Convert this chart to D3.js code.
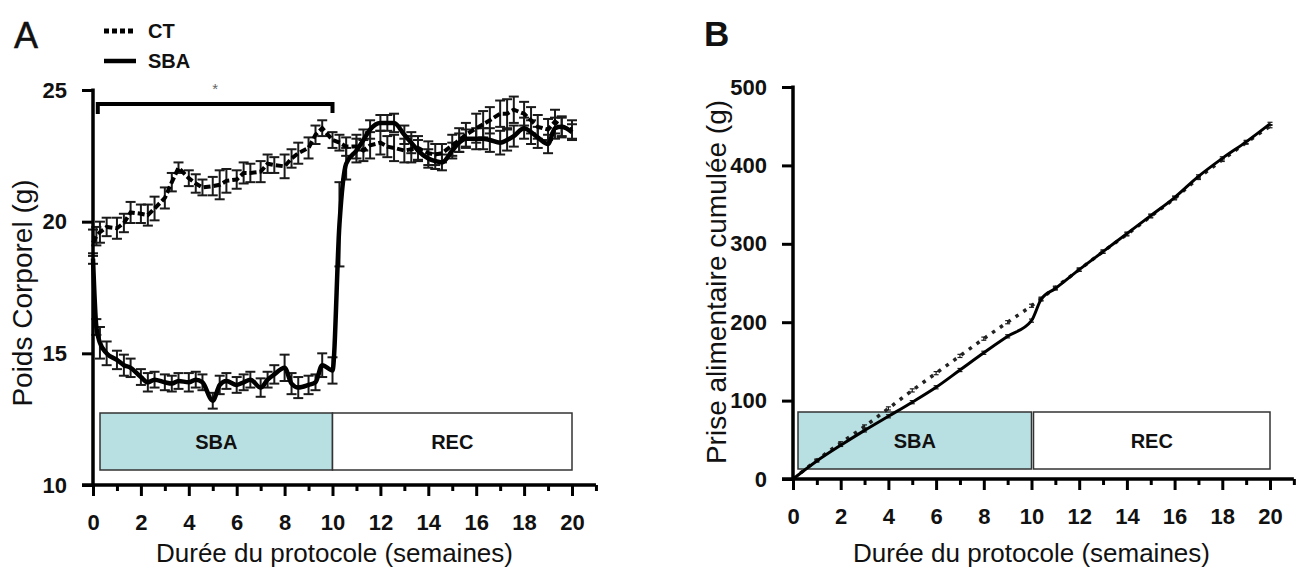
<!DOCTYPE html>
<html><head><meta charset="utf-8">
<script src="https://cdn.jsdelivr.net/npm/d3@7"></script>
<style>
body{margin:0;background:#fff;}
svg text{font-family:"Liberation Sans",Arial,Helvetica,sans-serif;}
</style></head><body>
<svg id="chart" width="1298" height="572"></svg>
<script>
// ---------- DATA ----------
// Panel A: body weight (g), weeks of protocol
const weeksA = [0, 0.14, 0.29, 0.57,
 1, 1.29, 1.57,  2, 2.29, 2.57,  3, 3.29, 3.57,  4, 4.29, 4.57,  5, 5.29, 5.57,
 6, 6.29, 6.57,  7, 7.29, 7.57,  8, 8.29, 8.57,  9, 9.29, 9.57,  10, 10.29, 10.57,
 11, 11.29, 11.57,  12, 12.29, 12.57,  13, 13.29, 13.57,  14, 14.29, 14.57,
 15, 15.29, 15.57,  16, 16.29, 16.57,  17, 17.29, 17.57,  18, 18.29, 18.57,
 19, 19.29, 19.57,  20];
const ctWeight = [19.2, 19.45, 19.6, 19.8,
 19.75, 19.95, 20.35,  20.3, 20.25, 20.5,  20.9, 21.5, 22.05,  21.65, 21.45, 21.3,  21.35, 21.4, 21.55,
 21.6, 21.85, 21.85,  21.9, 22.2, 22.15,  22.1, 22.4, 22.6,  22.8, 23.3, 23.55,  23.1, 23.0, 22.85,
 22.85, 22.7, 22.9,  23.0, 22.85, 22.8,  22.7, 22.75, 22.8,  22.6, 22.55, 22.6,
 22.9, 23.1, 23.3,  23.55, 23.7, 23.85,  24.1, 24.1, 24.25,  24.1, 23.85, 23.6,
 23.5, 23.8, 23.6,  23.5];
const ctWeightSem = [0.5, 0.35, 0.4, 0.35,
 0.4, 0.35, 0.4,  0.35, 0.4, 0.45,  0.4, 0.35, 0.2,  0.3, 0.35, 0.3,  0.35, 0.55, 0.45,
 0.35, 0.4, 0.35,  0.4, 0.35, 0.3,  0.45, 0.35, 0.4,  0.4, 0.35, 0.3,  0.3, 0.3, 0.35,
 0.45, 0.4, 0.5,  0.45, 0.4, 0.5,  0.45, 0.5, 0.45,  0.45, 0.4, 0.35,
 0.4, 0.45, 0.45,  0.55, 0.5, 0.5,  0.5, 0.55, 0.5,  0.45, 0.5, 0.45,
 0.4, 0.45, 0.4,  0.35];
const sbaWeight = [18.6, 16.0, 15.4, 15.0,
 14.75, 14.55, 14.45,  14.1, 13.9, 14.0,  13.9, 13.85, 13.95,  13.9, 14.0, 13.9,  13.2, 13.8, 13.95,
 13.8, 13.9, 14.0,  13.7, 14.0, 14.2,  14.45, 13.85, 13.7,  13.8, 13.9, 14.55,  14.35, 19.9, 22.2,
 22.7, 23.1, 23.5,  23.75, 23.75, 23.75,  23.3, 23.0, 22.7,  22.4, 22.3, 22.25,
 22.7, 23.0, 23.15,  23.15, 23.15, 23.1,  23.0, 23.1, 23.25,  23.55, 23.4, 23.2,
 22.95, 23.55, 23.6,  23.4];
const sbaWeightSem = [0.2, 0.3, 0.6, 0.45,
 0.35, 0.4, 0.35,  0.3, 0.35, 0.3,  0.3, 0.3, 0.3,  0.35, 0.3, 0.3,  0.3, 0.35, 0.3,
 0.3, 0.3, 0.3,  0.35, 0.3, 0.35,  0.5, 0.4, 0.4,  0.35, 0.3, 0.45,  0.5, 1.6, 0.6,
 0.45, 0.4, 0.35,  0.3, 0.3, 0.35,  0.35, 0.4, 0.4,  0.35, 0.3, 0.3,
 0.3, 0.35, 0.35,  0.4, 0.4, 0.45,  0.45, 0.4, 0.4,  0.4, 0.45, 0.4,
 0.35, 0.4, 0.35,  0.3];

// Panel B: cumulative food intake (g)
const weeksB = [0, 1, 2, 3, 4, 5, 6, 7, 8, 9, 10, 10.4, 11, 12, 13, 14, 15, 16, 17, 18, 19, 20];
const ctFood  = [0, 24, 46, 67, 90, 113, 135, 157, 179, 200, 221, 230, 244, 267, 290, 312, 335, 358, 384, 407, 429, 450];
const sbaFood = [0, 23, 43, 62, 80, 98, 117, 139, 161, 182, 202, 229, 243, 267, 290, 313, 336, 359, 386, 409, 430, 453];
const ctFoodSem  = [0, 1.5, 1.5, 2, 2, 2, 2, 2, 2, 2, 2, 2, 2, 2, 2, 2, 2, 2, 2, 2, 2, 2];
const sbaFoodSem = [0, 1.5, 1.5, 2, 2, 2, 2, 2, 2, 2, 2, 2, 2, 2, 2, 2, 2, 2, 2, 2, 2, 2];

// Axes / labels
const xMajorTicks = [0, 2, 4, 6, 8, 10, 12, 14, 16, 18, 20];
const xMinorTicks = [1, 3, 5, 7, 9, 11, 13, 15, 17, 19, 21];
const yTicksA = [10, 15, 20, 25];
const yTicksB = [0, 100, 200, 300, 400, 500];
const phaseLabels = ["SBA", "REC"];
const phaseBounds = [[0, 10], [10, 20]];
const groupLabels = ["CT", "SBA"];
const xTitle = "Durée du protocole (semaines)";
const yTitleA = "Poids Corporel (g)";
const yTitleB = "Prise alimentaire cumulée (g)";

// ---------- DRAW ----------
const svg = d3.select("#chart");
const FONT = '"Liberation Sans",Arial,Helvetica,sans-serif';

function axes(g, x, y, yTicks, yMin, yMax) {
  const y0 = y(yMin);
  const gx = g.append("g").attr("transform", `translate(0,${y0})`)
    .call(d3.axisBottom(x).tickValues(xMajorTicks).tickSize(11).tickPadding(18));
  const gxm = g.append("g").attr("transform", `translate(0,${y0})`)
    .call(d3.axisBottom(x).tickValues(xMinorTicks).tickSize(6).tickFormat(""));
  const gy = g.append("g").attr("transform", `translate(${x(0)},0)`)
    .call(d3.axisLeft(y).tickValues(yTicks).tickSize(11).tickPadding(15));
  [gx, gxm, gy].forEach(s => {
    s.select(".domain").remove();
    s.selectAll(".tick line").attr("stroke", "#000").attr("stroke-width", 3);
    s.selectAll(".tick text").attr("font-family", FONT).attr("font-size", 22)
      .attr("font-weight", "bold").attr("fill", "#111");
  });
  g.append("line").attr("x1", x(0) - 11).attr("x2", x(21)).attr("y1", y0).attr("y2", y0)
    .attr("stroke", "#000").attr("stroke-width", 3.5);
  g.append("line").attr("x1", x(0)).attr("x2", x(0)).attr("y1", y(yMax) - 1.5).attr("y2", y0 + 1.5)
    .attr("stroke", "#000").attr("stroke-width", 3.5);
}

function phaseBoxes(g, x, top, bottom, startPad, gap) {
  phaseLabels.forEach((lab, i) => {
    const x1 = x(phaseBounds[i][0]) + (i === 0 ? startPad : gap);
    const x2 = x(phaseBounds[i][1]);
    g.append("rect").attr("x", x1).attr("y", top).attr("width", x2 - x1).attr("height", bottom - top)
      .attr("fill", i === 0 ? "#b8dfe1" : "#fff").attr("stroke", "#333").attr("stroke-width", 1.5);
    g.append("text").attr("x", (x1 + x2) / 2).attr("y", (top + bottom) / 2)
      .attr("text-anchor", "middle").attr("dominant-baseline", "central")
      .attr("font-size", 20).attr("font-weight", "bold").attr("fill", "#111").text(lab);
  });
}

function errorBars(g, x, y, xs, means, sems, cap, width) {
  const eg = g.append("g").attr("stroke", "#1a1a1a").attr("stroke-width", width).attr("fill", "none");
  xs.forEach((w, i) => {
    const m = means[i], e = sems[i];
    if (!e) return;
    const px = x(w), yl = y(m - e), yh = y(m + e);
    eg.append("line").attr("x1", px).attr("x2", px).attr("y1", yl).attr("y2", yh);
    eg.append("line").attr("x1", px - cap).attr("x2", px + cap).attr("y1", yl).attr("y2", yl);
    eg.append("line").attr("x1", px - cap).attr("x2", px + cap).attr("y1", yh).attr("y2", yh);
  });
}

// ===== Panel A =====
{
  const g = svg.append("g");
  const x = d3.scaleLinear().domain([0, 20]).range([93, 572]);
  const y = d3.scaleLinear().domain([10, 25]).range([485, 90]);

  phaseBoxes(g, x, 413, 470, 7, 0);

  errorBars(g, x, y, weeksA, ctWeight, ctWeightSem, 5, 2);
  errorBars(g, x, y, weeksA, sbaWeight, sbaWeightSem, 5, 2);

  const ctLine = d3.line().x((d, i) => x(weeksA[i])).y(d => y(d));
  g.append("path").attr("d", ctLine(ctWeight)).attr("fill", "none").attr("stroke", "#000")
    .attr("stroke-width", 4).attr("stroke-dasharray", "7,3");
  const sbaLine = d3.line().x((d, i) => x(weeksA[i])).y(d => y(d)).curve(d3.curveMonotoneX);
  g.append("path").attr("d", sbaLine(sbaWeight)).attr("fill", "none").attr("stroke", "#000")
    .attr("stroke-width", 4.5).attr("stroke-linejoin", "round");

  axes(g, x, y, yTicksA, 10, 25);

  // significance bracket over SBA phase
  const by = y(25) + 14;
  g.append("path")
    .attr("d", `M${x(0.2)},${by + 10}V${by}H${x(10)}V${by + 9}`)
    .attr("fill", "none").attr("stroke", "#000").attr("stroke-width", 4);
  g.append("text").attr("x", x(5.1)).attr("y", by - 10).attr("text-anchor", "middle")
    .attr("font-size", 15).attr("fill", "#666").text("*");

  // titles
  g.append("text").attr("x", (x(0) + x(20)) / 2 + 2).attr("y", 553).attr("text-anchor", "middle")
    .attr("dominant-baseline", "central").attr("font-size", 26).attr("fill", "#111").text(xTitle);
  g.append("text").attr("transform", "translate(22,293) rotate(-90)").attr("text-anchor", "middle")
    .attr("dominant-baseline", "central").attr("font-size", 28).attr("fill", "#111").text(yTitleA);
  g.append("text").attr("x", 14).attr("y", 48).attr("font-size", 36).attr("fill", "#111")
    .attr("stroke", "#111").attr("stroke-width", 0.5).text("A");

  // legend
  const lg = g.append("g");
  groupLabels.forEach((lab, i) => {
    const ly = 31 + i * 30;
    lg.append("line").attr("x1", 104).attr("x2", 136).attr("y1", ly).attr("y2", ly)
      .attr("stroke", "#000").attr("stroke-width", i === 0 ? 5 : 4.5)
      .attr("stroke-dasharray", i === 0 ? "5,3" : null);
    lg.append("text").attr("x", 148).attr("y", ly).attr("dominant-baseline", "central")
      .attr("font-size", 20).attr("font-weight", "bold").attr("fill", "#111").text(lab);
  });
}

// ===== Panel B =====
{
  const g = svg.append("g");
  const x = d3.scaleLinear().domain([0, 20]).range([793, 1270]);
  const y = d3.scaleLinear().domain([0, 500]).range([479, 87]);

  phaseBoxes(g, x, 412, 469, 5, 2);

  errorBars(g, x, y, weeksB, ctFood, ctFoodSem, 2.5, 1.2);
  errorBars(g, x, y, weeksB, sbaFood, sbaFoodSem, 2.5, 1.2);

  const line = d3.line().x((d, i) => x(weeksB[i])).y(d => y(d)).curve(d3.curveMonotoneX);
  g.append("path").attr("d", line(ctFood)).attr("fill", "none").attr("stroke", "#222")
    .attr("stroke-width", 3.5).attr("stroke-dasharray", "3.5,6");
  g.append("path").attr("d", line(sbaFood)).attr("fill", "none").attr("stroke", "#000")
    .attr("stroke-width", 3);

  axes(g, x, y, yTicksB, 0, 500);

  g.append("text").attr("x", (x(0) + x(20)) / 2).attr("y", 553).attr("text-anchor", "middle")
    .attr("dominant-baseline", "central").attr("font-size", 26).attr("fill", "#111").text(xTitle);
  g.append("text").attr("transform", "translate(716,282) rotate(-90)").attr("text-anchor", "middle")
    .attr("dominant-baseline", "central").attr("font-size", 28).attr("fill", "#111").text(yTitleB);
  g.append("text").attr("x", 704).attr("y", 46).attr("font-size", 35).attr("font-weight", "bold")
    .attr("fill", "#111").text("B");
}
</script>
</body></html>
